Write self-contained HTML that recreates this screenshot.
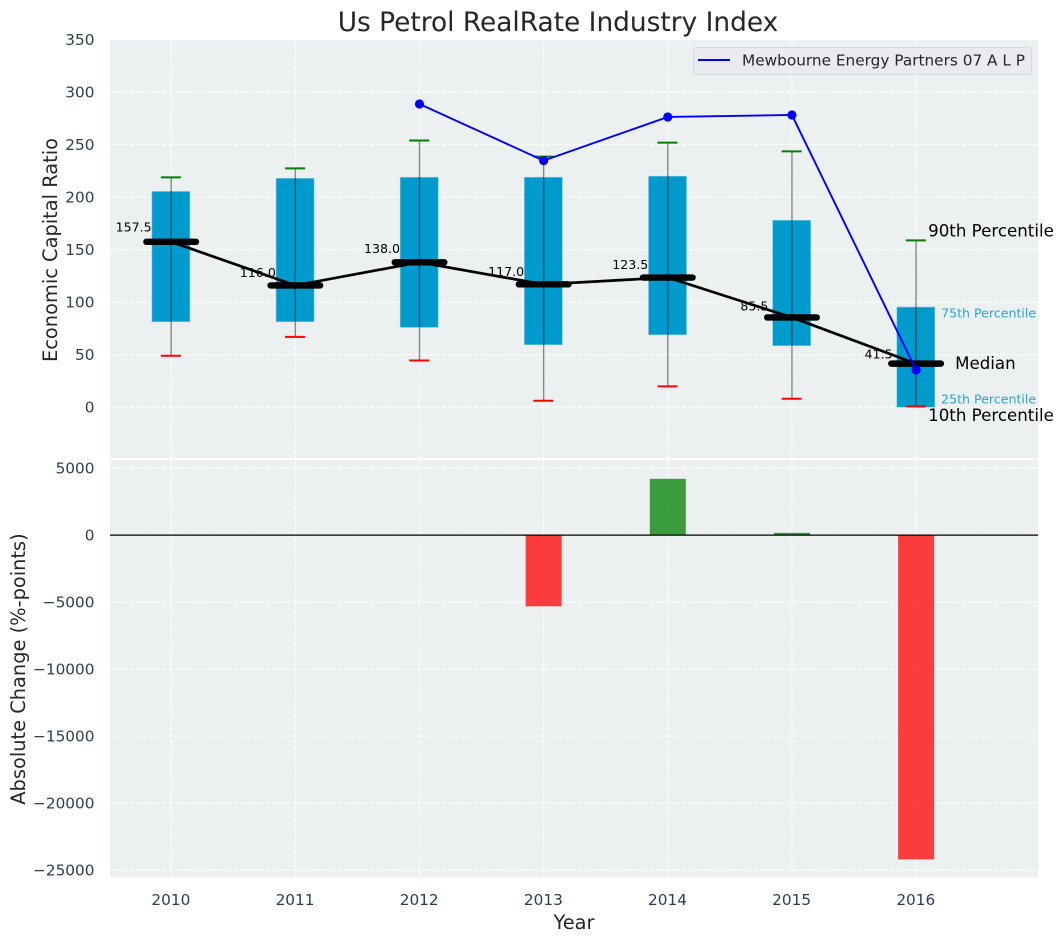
<!DOCTYPE html>
<html>
<head>
<meta charset="utf-8">
<title>Us Petrol RealRate Industry Index</title>
<style>
html,body{margin:0;padding:0;background:#fff;width:1063px;height:942px;overflow:hidden}
svg{display:block;font-family:"DejaVu Sans","Liberation Sans",sans-serif}
</style>
</head>
<body>
<svg id="chart" xmlns="http://www.w3.org/2000/svg" width="1063" height="942" viewBox="0 0 1063 942"></svg>
<script>
const years = [2010, 2011, 2012, 2013, 2014, 2015, 2016];
const p90 = [218.9, 227.5, 254, 238.6, 252, 243.6, 158.9];
const p75 = [205.5, 218, 219, 219, 220, 178, 95.4];
const medians = [157.5, 116.0, 138.0, 117.0, 123.5, 85.5, 41.5];
const p25 = [81.4, 81.4, 76, 59.5, 69, 58.6, 0];
const p10 = [49, 67, 44.5, 6.2, 19.8, 8, 0.8];
const fundYears = [2012, 2013, 2014, 2015, 2016];
const fundValues = [288.8, 234.8, 276.4, 278.3, 35.4];
const changeYears = [2013, 2014, 2015, 2016];
const changeValues = [-5310, 4200, 170, -24200];
const topTicks = [0, 50, 100, 150, 200, 250, 300, 350];
const bottomTicks = [5000, 0, -5000, -10000, -15000, -20000, -25000];
const fundName = 'Mewbourne Energy Partners 07 A L P';

const svg = document.getElementById('chart');
const NS = 'http://www.w3.org/2000/svg';
const left = 110, right = 1038, topA = 40, topB = 458, botA = 460, botB = 877.5;
const tickFont = 15.3, titleFont = 19.4, noteFont = 16.67, smallFont = 12.6;
const X = v => 171.2 + (v - 2010) * 124.15;
const Y1 = v => 407.2 - v * 1.05;
const Y2 = v => 535.1 - v * 0.0134;
const fmtTick = v => (v < 0 ? '\u2212' + Math.abs(v) : String(v));

function make(tag, attrs, text) {
  const el = document.createElementNS(NS, tag);
  for (const k in attrs) el.setAttribute(k, attrs[k]);
  if (text !== undefined) el.textContent = text;
  svg.appendChild(el);
  return el;
}
let el;

el = make('rect', {x: 0, y: 0, width: 1063, height: 942, fill: '#ffffff'});


el = make('rect', {x: left, y: topA, width: right - left, height: topB - topA, fill: '#ecf0f1'});


el = make('rect', {x: left, y: botA, width: right - left, height: botB - botA, fill: '#ecf0f1'});



const gridStyle = {stroke: '#ffffff', 'stroke-width': 1.1, 'stroke-dasharray': '4.5 2'};
topTicks.forEach(t => {
  el = make('line', Object.assign({x1: left, x2: right, y1: Y1(t), y2: Y1(t)}, gridStyle));
  
  
  el = make('text', {x: 94.5, y: Y1(t) + 5.5, 'text-anchor': 'end', 'font-size': tickFont, fill: '#2c3e50'}, fmtTick(t));
  
  
});
bottomTicks.forEach(t => {
  el = make('line', Object.assign({x1: left, x2: right, y1: Y2(t), y2: Y2(t)}, gridStyle));
  
  
  el = make('text', {x: 94.5, y: Y2(t) + 5.5, 'text-anchor': 'end', 'font-size': tickFont, fill: '#2c3e50'}, fmtTick(t));
  
  
});
years.forEach(yr => {
  el = make('line', Object.assign({x1: X(yr), x2: X(yr), y1: topA, y2: topB}, gridStyle));
  
  
  el = make('line', Object.assign({x1: X(yr), x2: X(yr), y1: botA, y2: botB}, gridStyle));
  
  
  el = make('text', {x: X(yr) - 0.3, y: 905, 'text-anchor': 'middle', 'font-size': tickFont, fill: '#2c3e50'}, String(yr));
  
  
});

years.forEach((yr, i) => {
  el = make('rect', {x: X(yr) - 19.3, y: Y1(p75[i]), width: 38, height: Y1(p25[i]) - Y1(p75[i]), fill: '#009ACD', stroke: '#7fcbe5', 'stroke-width': 0.6});
  
  
  el = make('line', {x1: X(yr), x2: X(yr), y1: Y1(p90[i]), y2: Y1(p10[i]), stroke: '#000000', 'stroke-opacity': 0.45, 'stroke-width': 1.4});
  
  
  el = make('line', {x1: X(yr) - 10.3, x2: X(yr) + 9.7, y1: Y1(p90[i]), y2: Y1(p90[i]), stroke: '#008000', 'stroke-width': 2});
  
  
  el = make('line', {x1: X(yr) - 10.3, x2: X(yr) + 9.7, y1: Y1(p10[i]), y2: Y1(p10[i]), stroke: '#ff0000', 'stroke-width': 2});
  
  
});

el = make('polyline', {points: years.map((yr, i) => X(yr) + ',' + Y1(medians[i])).join(' '), fill: 'none', stroke: '#000000', 'stroke-width': 2.7});


years.forEach((yr, i) => {
  const m = medians[i];
  el = make('line', {x1: X(yr) - 24.8, x2: X(yr) + 24.8, y1: Y1(m), y2: Y1(m), stroke: '#000000', 'stroke-width': 6.4, 'stroke-linecap': 'round'});
  
  
  el = make('text', {x: X(yr) - (m < 100 ? 23.5 : 19.5), y: Y1(m) - (3.2 + m * 0.045), 'text-anchor': 'end', 'font-size': smallFont, fill: '#000000'}, m.toFixed(1));
  
  
});

el = make('polyline', {points: fundYears.map((yr, i) => X(yr) + ',' + Y1(fundValues[i])).join(' '), fill: 'none', stroke: '#0000ff', 'stroke-width': 1.9});


fundYears.forEach((yr, i) => {
  el = make('circle', {cx: X(yr), cy: Y1(fundValues[i]), r: 4.6, fill: '#0000ff'});
  
  
});

changeYears.forEach((yr, i) => {
  const v = changeValues[i];
  el = make('rect', {x: X(yr) - 18, y: Math.min(Y2(v), Y2(0)), width: 36, height: Math.abs(Y2(v) - Y2(0)), fill: v < 0 ? '#ff0000' : '#008000', 'fill-opacity': 0.75});
  
  
});
el = make('line', {x1: left, x2: right, y1: Y2(0), y2: Y2(0), stroke: '#000000', 'stroke-width': 1.3});



const last = years.length - 1, lx = X(years[last]);
el = make('text', {x: lx + 12, y: Y1(p90[last]) - 4, 'font-size': noteFont, fill: '#000000'}, '90th Percentile');


el = make('text', {x: lx + 25, y: Y1(p75[last]) + 10.7, 'font-size': smallFont, fill: '#009ACD', 'fill-opacity': 0.85}, '75th Percentile');


el = make('text', {x: lx + 39, y: Y1(medians[last]) + 5.5, 'font-size': noteFont, fill: '#000000'}, 'Median');


el = make('text', {x: lx + 25, y: Y1(p25[last]) - 3.5, 'font-size': smallFont, fill: '#009ACD', 'fill-opacity': 0.85}, '25th Percentile');


el = make('text', {x: lx + 12, y: Y1(p10[last]) + 14.5, 'font-size': noteFont, fill: '#000000'}, '10th Percentile');



el = make('rect', {x: 693.5, y: 47.5, width: 338, height: 27, rx: 2.5, fill: '#e9ebf0', stroke: '#d6d8dd', 'stroke-width': 1});


el = make('line', {x1: 698, x2: 730, y1: 60, y2: 60, stroke: '#0000ff', 'stroke-width': 1.9});


el = make('text', {x: 742, y: 65.5, 'font-size': tickFont, fill: '#262626'}, fundName);



el = make('text', {x: 558, y: 31, 'text-anchor': 'middle', 'font-size': 26.4, fill: '#262626'}, 'Us Petrol RealRate Industry Index');


el = make('text', {x: 574, y: 929, 'text-anchor': 'middle', 'font-size': titleFont, fill: '#262626'}, 'Year');


el = make('text', {x: 0, y: 0, transform: 'translate(57,250) rotate(-90)', 'text-anchor': 'middle', 'font-size': titleFont, fill: '#262626'}, 'Economic Capital Ratio');


el = make('text', {x: 0, y: 0, transform: 'translate(25,669) rotate(-90)', 'text-anchor': 'middle', 'font-size': titleFont, fill: '#262626'}, 'Absolute Change (%-points)');


</script>
</body>
</html>
